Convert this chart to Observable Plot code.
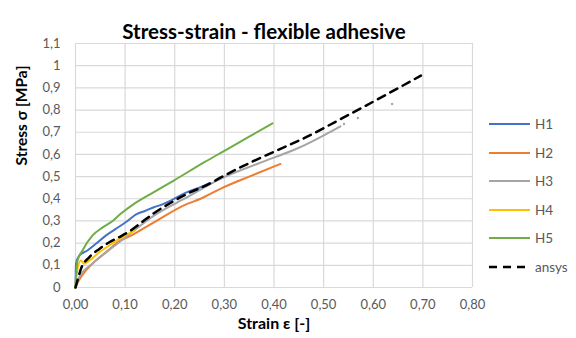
<!DOCTYPE html>
<html>
<head>
<meta charset="utf-8">
<script src="https://cdn.jsdelivr.net/npm/d3@7"></script>
<script src="https://cdn.jsdelivr.net/npm/@observablehq/plot@0.6"></script>
<style>
  html, body { margin: 0; padding: 0; background: #fff; }
  #wrap { position: relative; width: 576px; height: 338px; font-family: Lato, "Open Sans", sans-serif; }
  #legend { position: absolute; left: 489px; top: 110px; }
  .item { display: flex; align-items: center; height: 28.5px; font-size: 13.5px; color: #595959; }
  .item svg { margin-right: 4px; }
</style>
</head>
<body>
<div id="wrap"><div id="chart"></div><div id="legend"></div></div>
<script>
// ---- data ----
const seriesNames = ["H1", "H2", "H3", "H4", "H5", "ansys"];
const seriesColors = ["#4472C4", "#ED7D31", "#A5A5A5", "#FFC000", "#70AD47", "#000000"];

const h1Strain = [0, 0.001, 0.0075, 0.024, 0.041, 0.061, 0.081, 0.101, 0.124, 0.14, 0.158, 0.175, 0.192, 0.225, 0.252, 0.27];
const h1Stress = [0, 0.107, 0.144, 0.167, 0.197, 0.234, 0.264, 0.294, 0.332, 0.345, 0.362, 0.375, 0.392, 0.43, 0.452, 0.47];

const h2Strain = [0, 0.005, 0.021, 0.04, 0.061, 0.091, 0.112, 0.158, 0.225, 0.252, 0.292, 0.35, 0.413];
const h2Stress = [0, 0.025, 0.077, 0.12, 0.159, 0.212, 0.234, 0.294, 0.377, 0.4, 0.445, 0.5, 0.557];

const h3Strain = [0, 0.0075, 0.034, 0.06, 0.1, 0.158, 0.225, 0.292, 0.373, 0.45, 0.534];
const h3Stress = [0, 0.047, 0.107, 0.155, 0.225, 0.324, 0.407, 0.49, 0.563, 0.63, 0.727];
const h3DotStrain = [0.541, 0.569, 0.638];
const h3DotStress = [0.737, 0.764, 0.827];

const h4Strain = [0, 0.001, 0.011, 0.017, 0.028, 0.048, 0.068, 0.088, 0.112, 0.12];
const h4Stress = [0, 0.04, 0.122, 0.107, 0.122, 0.159, 0.19, 0.219, 0.249, 0.258];

const h5Strain = [0, 0.004, 0.014, 0.034, 0.054, 0.075, 0.091, 0.118, 0.158, 0.198, 0.259, 0.3, 0.35, 0.397];
const h5Stress = [0, 0.12, 0.167, 0.234, 0.27, 0.3, 0.332, 0.377, 0.43, 0.482, 0.564, 0.616, 0.68, 0.74];

const ansysStrain = [0, 0.005, 0.011, 0.028, 0.048, 0.068, 0.088, 0.108, 0.131, 0.158, 0.192, 0.225, 0.272, 0.292, 0.353, 0.413, 0.45, 0.55, 0.696];
const ansysStress = [0, 0.04, 0.084, 0.137, 0.174, 0.204, 0.227, 0.252, 0.29, 0.335, 0.382, 0.422, 0.47, 0.495, 0.564, 0.625, 0.662, 0.778, 0.955];

const xTicks = [0, 0.1, 0.2, 0.3, 0.4, 0.5, 0.6, 0.7, 0.8];
const yTicks = [0, 0.1, 0.2, 0.3, 0.4, 0.5, 0.6, 0.7, 0.8, 0.9, 1.0, 1.1];

const titleText = "Stress-strain - flexible adhesive";
const xLabel = "Strain ε [-]";
const yLabel = "Stress σ [MPa]";

// ---- build ----
const toRows = (xs, ys) => xs.map((x, i) => ({x, y: ys[i]}));
const series = [
  toRows(h1Strain, h1Stress), toRows(h2Strain, h2Stress), toRows(h3Strain, h3Stress),
  toRows(h4Strain, h4Stress), toRows(h5Strain, h5Stress), toRows(ansysStrain, ansysStress)
];
const h3Dots = toRows(h3DotStrain, h3DotStress);

const font = "Lato, 'Open Sans', sans-serif";
const comma = (d, dec) => d.toFixed(dec).replace(".", ",");

const marks = [
  Plot.ruleX(xTicks, {stroke: "#d9d9d9", strokeWidth: 1.2}),
  Plot.ruleY(yTicks, {stroke: "#d9d9d9", strokeWidth: 1.2}),
  Plot.axisX({ticks: xTicks, tickSize: 0, tickPadding: 12, tickFormat: d => comma(d, 2), label: null, fontSize: 13, fill: "#595959"}),
  Plot.axisY({ticks: yTicks, tickSize: 0, tickPadding: 15, tickFormat: d => (d === 0 || d === 1) ? String(Math.round(d)) : comma(d, 1), label: null, fontSize: 13, fill: "#595959"})
];
series.forEach((rows, i) => {
  const dashed = seriesNames[i] === "ansys";
  marks.push(Plot.line(rows, {x: "x", y: "y", stroke: seriesColors[i], strokeWidth: dashed ? 2.5 : 2,
    strokeDasharray: dashed ? "8,6" : null, curve: "monotone-x"}));
});
marks.push(Plot.dot(h3Dots, {x: "x", y: "y", r: 1.2, fill: seriesColors[2], stroke: null}));
marks.push(Plot.text([titleText], {frameAnchor: "top", dy: -19, dx: -10, fontSize: 20.5, fontWeight: "bold", fill: "#000"}));
marks.push(Plot.text([xLabel], {frameAnchor: "bottom", dy: 41, fontSize: 16, fontWeight: "bold", fill: "#000"}));
marks.push(Plot.text([yLabel], {frameAnchor: "left", dx: -53, rotate: -90, fontSize: 15.5, fontWeight: "bold", fill: "#000"}));

const chart = Plot.plot({
  width: 576, height: 338,
  marginTop: 43, marginBottom: 51, marginLeft: 75, marginRight: 104,
  x: {domain: [0, 0.8]},
  y: {domain: [0, 1.1]},
  style: {fontFamily: font, background: "#fff", overflow: "visible"},
  marks
});
document.getElementById("chart").appendChild(chart);

// legend
const legend = d3.select("#legend");
seriesNames.forEach((name, i) => {
  const row = legend.append("div").attr("class", "item");
  const svg = row.append("svg").attr("width", 42).attr("height", 6);
  svg.append("line").attr("x1", 0).attr("x2", 41).attr("y1", 3).attr("y2", 3)
    .attr("stroke", seriesColors[i]).attr("stroke-width", name === "ansys" ? 2.5 : 2)
    .attr("stroke-dasharray", name === "ansys" ? "8,6" : null);
  row.append("span").text(name);
});
</script>
</body>
</html>
